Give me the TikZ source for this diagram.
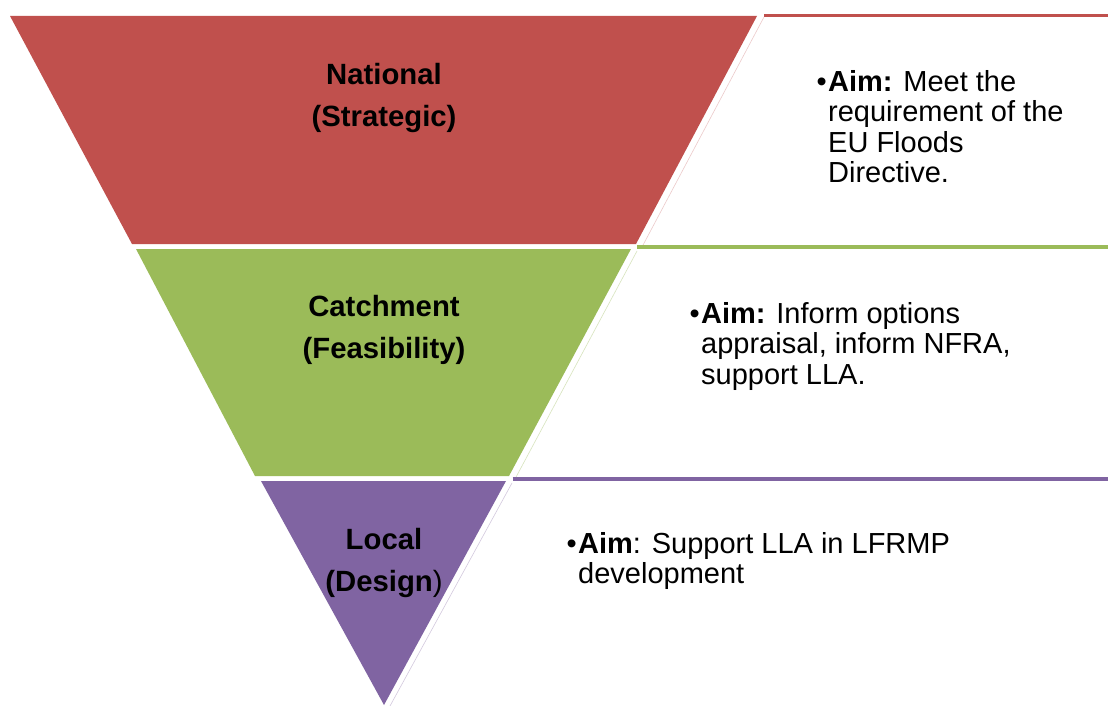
\documentclass[tikz,border=0pt]{standalone}
\usepackage{fontspec}
\setmainfont{Liberation Sans}
\definecolor{bandred}{HTML}{C0504D}
\definecolor{bandgreen}{HTML}{9BBB59}
\definecolor{bandpurple}{HTML}{8064A2}
\tikzset{
  band/.style={draw=none},
  rule/.style={line width=4pt, line cap=butt},
  ghost/.style={line width=0.6pt},
  lbl/.style={anchor=base, inner sep=0pt, font=\fontsize{29.3}{42.5}\selectfont},
  aim/.style={anchor=base west, inner sep=0pt, font=\fontsize{29}{30.4}\selectfont},
}
\newcommand{\centredlines}[1]{\vtop{\halign{\hfil##\hfil\cr#1\crcr}}}
\newcommand{\leftlines}[1]{\vtop{\halign{##\hfil\cr#1\crcr}}}
\begin{document}
\begin{tikzpicture}[x=1pt,y=-1pt]
\useasboundingbox[fill=white] (0,0) rectangle (1108,706);
% bands
\fill[band, bandred] (10,16) -- (757,16) -- (636,244) -- (132,244) -- cycle;
\fill[band, bandgreen] (136,249) -- (631,249) -- (509,476) -- (255,476) -- cycle;
\fill[band, bandpurple] (261,481) -- (506,481) -- (384,705) -- cycle;
% faint edge lines
\draw[ghost, bandred!30] (764,17) -- (642,247);
\draw[ghost, bandgreen!40] (637,251) -- (515,479);
\draw[ghost, bandpurple!35] (512,483) -- (390,706);
% coordinates for rules
\coordinate (r1) at (764,15.3);
\coordinate (r1e) at (1108,15.3);
\coordinate (r2) at (637,246.8);
\coordinate (r2e) at (1108,246.8);
\coordinate (r3) at (512.5,479);
\coordinate (r3e) at (1108,479);
\draw[rule, bandred, line width=3pt] (r1) -- (r1e);
\draw[rule, bandgreen] (r2) -- (r2e);
\draw[rule, bandpurple] (r3) -- (r3e);
% band labels
\node[lbl] (national) at (384,84.3) {\centredlines{\textbf{National}\cr\textbf{(Strategic)}}};
\node[lbl] (catchment) at (384,316) {\centredlines{\textbf{Catchment}\cr\textbf{(Feasibility)}}};
\node[lbl] (local) at (384,549) {\centredlines{\textbf{Local}\cr\textbf{(Design})}};
% aims
\node[aim] (aim1) at (828,91.6) {\leftlines{\llap{•\hspace{1.5pt}}\textbf{Aim:} Meet the\cr requirement of the\cr EU Floods\cr Directive.}};
\node[aim] (aim2) at (701,323.3) {\leftlines{\llap{•\hspace{1.5pt}}\textbf{Aim:} Inform options\cr appraisal, inform NFRA,\cr support LLA.}};
\node[aim] (aim3) at (578,553) {\leftlines{\llap{•\hspace{1.5pt}}\textbf{Aim}: Support LLA in LFRMP\cr development}};
\end{tikzpicture}
\end{document}
